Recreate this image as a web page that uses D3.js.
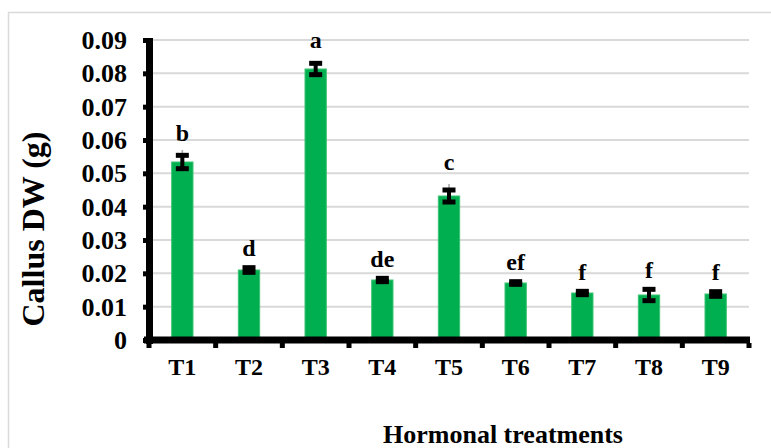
<!DOCTYPE html>
<html>
<head>
<meta charset="utf-8">
<script src="https://cdn.jsdelivr.net/npm/d3@7"></script>
<style>
  body { margin: 0; background: #fff; }
  text { font-family: "Liberation Serif", "Times New Roman", serif; font-weight: bold; fill: #000; }
</style>
</head>
<body>
<script>
    // data
    const treatments = ['T1', 'T2', 'T3', 'T4', 'T5', 'T6', 'T7', 'T8', 'T9']
    const dryWeight = [0.0534, 0.021, 0.0813, 0.018, 0.0432, 0.0171, 0.0141, 0.0135, 0.0138]
    const errBlack = [0.002, 0.0007, 0.0017, 0.0005, 0.0018, 0.0004, 0.0005, 0.0017, 0.0007]
    const errGrey = [0.0036, 0, 0.0036, 0, 0.005, 0, 0, 0, 0]
    const letters = ['b', 'd', 'a', 'de', 'c', 'ef', 'f', 'f', 'f']
    const yTicks = [0, 0.01, 0.02, 0.03, 0.04, 0.05, 0.06, 0.07, 0.08, 0.09]

    const W = 771, H = 448

    const svg = d3.select('body').append('svg')
        .attr('width', W)
        .attr('height', H)

    // outer chart frame (runs off the right/bottom)
    svg.append('path')
        .attr('d', `M8.5,${H + 2}V12.5H${W + 2}`)
        .attr('fill', 'none')
        .attr('stroke', '#d9d9d9')
        .attr('stroke-width', 1.5)

    const x = d3.scaleBand()
        .domain(treatments)
        .range([149, 749])
        .padding(0)

    const y = d3.scaleLinear()
        .domain([0, 0.09])
        .range([340, 40])

    const barW = x.bandwidth() * 0.32

    // gridlines
    svg.selectAll('.grid')
        .data(yTicks.filter(d => d > 0))
        .enter().append('line')
        .attr('x1', 150)
        .attr('x2', 749)
        .attr('y1', d => y(d))
        .attr('y2', d => y(d))
        .attr('stroke', '#d9d9d9')
        .attr('stroke-width', 2)

    // bars
    svg.selectAll('.bar')
        .data(dryWeight)
        .enter().append('rect')
        .attr('x', (d, i) => x(treatments[i]) + x.bandwidth() / 2 - barW / 2)
        .attr('y', d => y(d))
        .attr('width', barW)
        .attr('height', d => y(0) - y(d))
        .attr('fill', '#00b050')
        .attr('stroke', '#3dc472')
        .attr('stroke-width', 1)

    // error bars: thin grey line + heavy black caps
    const eb = svg.selectAll('.err')
        .data(dryWeight)
        .enter().append('g')
        .attr('transform', (d, i) => `translate(${x(treatments[i]) + x.bandwidth() / 2},0)`)

    eb.filter((d, i) => errGrey[i] > 0).append('line')
        .attr('x1', 0).attr('x2', 0)
        .attr('y1', d => y(d))
        .attr('y2', (d, i) => y(d + errGrey[i]))
        .attr('stroke', '#a6a6a6')
        .attr('stroke-width', 1.5)

    eb.append('rect')
        .attr('x', -2)
        .attr('width', 4)
        .attr('y', (d, i) => y(d + errBlack[i]))
        .attr('height', (d, i) => y(d - errBlack[i]) - y(d + errBlack[i]))
        .attr('fill', '#000')

    eb.append('rect')
        .attr('x', -6.5).attr('width', 13)
        .attr('y', (d, i) => y(d + errBlack[i]) - 2.5)
        .attr('height', 5)
        .attr('fill', '#000')

    eb.append('rect')
        .attr('x', -6.5).attr('width', 13)
        .attr('y', (d, i) => y(d - errBlack[i]) - 2.5)
        .attr('height', 5)
        .attr('fill', '#000')

    // significance letters
    eb.append('text')
        .attr('text-anchor', 'middle')
        .attr('y', (d, i) => Math.min(y(d + errBlack[i]) - 2.5, y(d + errGrey[i])) - 9)
        .style('font-size', '24px')
        .text((d, i) => letters[i])

    // y axis
    const yAxis = svg.append('g')
    yAxis.append('line')
        .attr('x1', 149.5).attr('x2', 149.5)
        .attr('y1', y(0.09) - 2).attr('y2', y(0) + 4)
        .attr('stroke', '#000')
        .attr('stroke-width', 7)
    yAxis.selectAll('.tk')
        .data(yTicks)
        .enter().append('rect')
        .attr('x', 143)
        .attr('y', d => y(d) - 2)
        .attr('width', 5)
        .attr('height', 5)
        .attr('fill', '#000')
    yAxis.selectAll('.lbl')
        .data(yTicks)
        .enter().append('text')
        .attr('x', 127)
        .attr('y', d => y(d))
        .attr('dy', '0.35em')
        .attr('text-anchor', 'end')
        .style('font-size', '26px')
        .text(d => d3.format('.2f')(d).replace('0.00', '0'))

    // x axis
    const xAxis = svg.append('g')
    xAxis.append('line')
        .attr('x1', 144).attr('x2', 750)
        .attr('y1', y(0)).attr('y2', y(0))
        .attr('stroke', '#000')
        .attr('stroke-width', 7)
    xAxis.selectAll('.tk')
        .data(treatments.concat(['end']))
        .enter().append('rect')
        .attr('x', (d, i) => 149 + i * x.bandwidth() - 2.5)
        .attr('y', y(0) + 3)
        .attr('width', 5)
        .attr('height', 5)
        .attr('fill', '#000')
    xAxis.selectAll('.lbl')
        .data(treatments)
        .enter().append('text')
        .attr('x', d => x(d) + x.bandwidth() / 2)
        .attr('y', 375)
        .attr('text-anchor', 'middle')
        .style('font-size', '24px')
        .text(d => d)

    // axis titles
    svg.append('text')
        .attr('x', 503)
        .attr('y', 443)
        .attr('text-anchor', 'middle')
        .style('font-size', '26px')
        .text('Hormonal treatments')

    svg.append('text')
        .attr('transform', 'translate(44,229) rotate(-90)')
        .attr('text-anchor', 'middle')
        .style('font-size', '32px')
        .text('Callus DW (g)')
</script>
</body>
</html>
